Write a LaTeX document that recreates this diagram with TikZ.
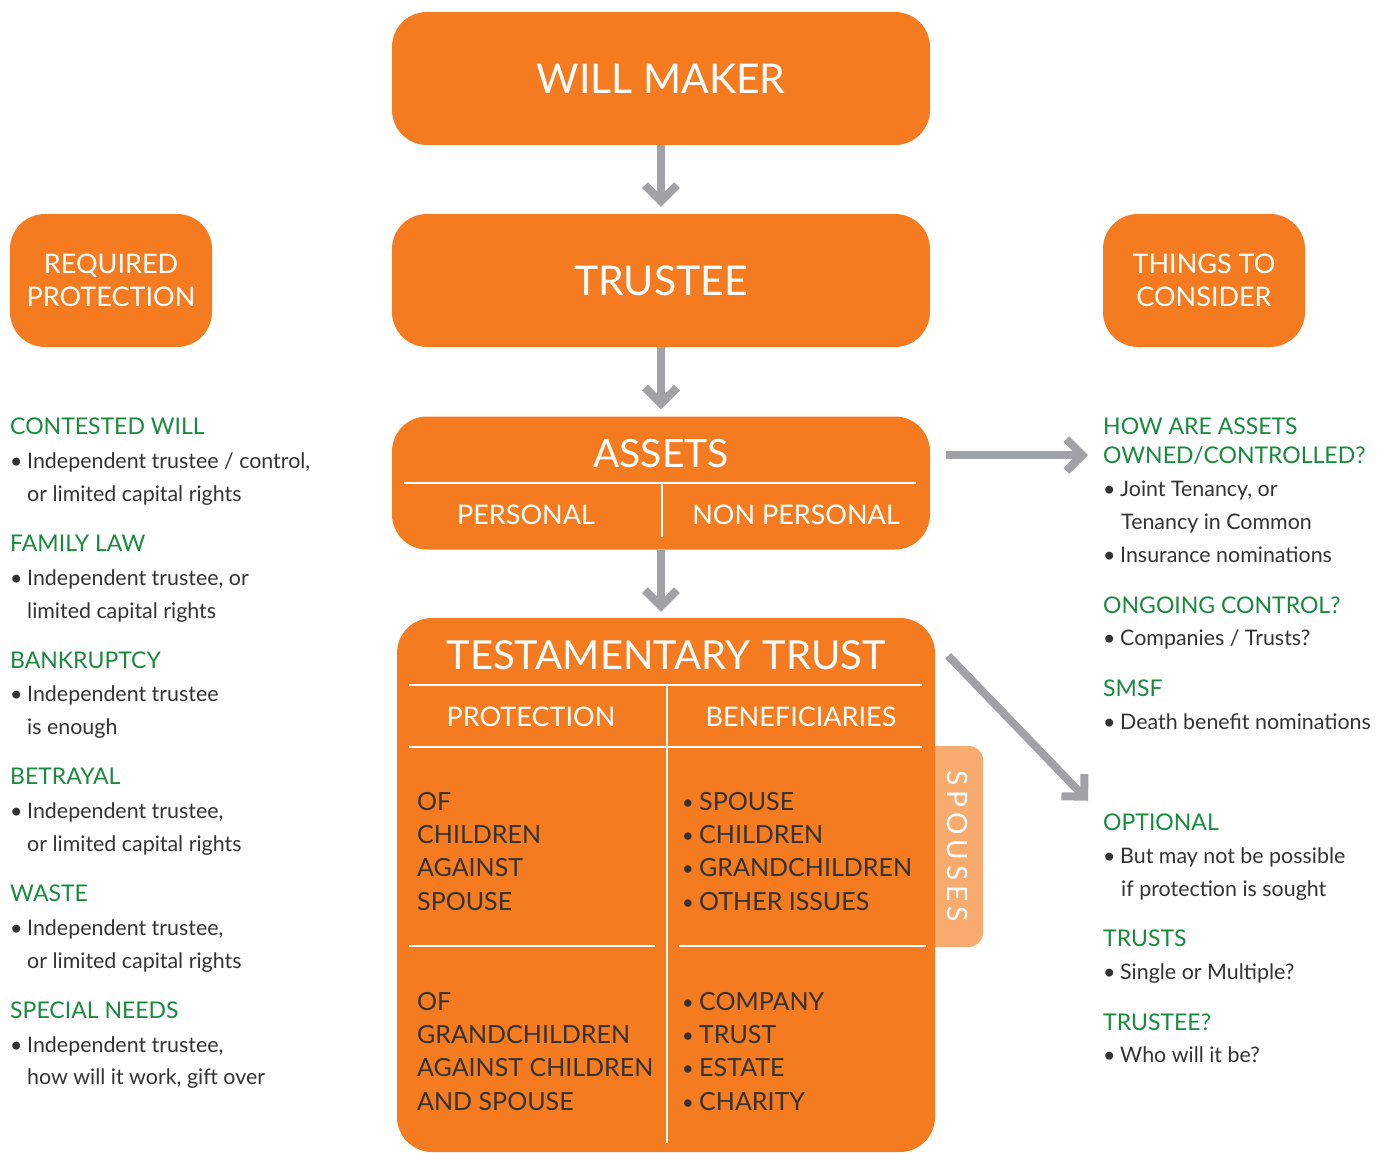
\documentclass[tikz,border=0pt]{standalone}
\usepackage{fontspec}
\setmainfont{Lato}
\usetikzlibrary{arrows.meta}
\definecolor{willorange}{HTML}{F47B20}
\definecolor{tabpeach}{HTML}{F8AB6F}
\definecolor{arrowgrey}{HTML}{A1A2A5}
\definecolor{headgreen}{HTML}{188A3E}
\definecolor{inktext}{HTML}{333333}
\newcommand{\blt}{\makebox[17pt][l]{\textbullet}}
\newcommand{\cellblt}{\makebox[18pt][l]{\hspace{1pt}\raisebox{1pt}{\fontsize{20}{20}\selectfont\textbullet}}}

\tikzset{
  bigbox/.style={fill=willorange, rounded corners=35pt, minimum width=538pt, minimum height=133pt, inner sep=0pt, text=white},
  sidebox/.style={fill=willorange, rounded corners=35pt, minimum width=202pt, minimum height=133pt, inner sep=0pt, text=white, align=center, font=\fontsize{27}{33}\selectfont},
  flowarrow/.style={draw=arrowgrey, line width=8pt, -{Straight Barb[length=16pt,width=32pt]}},
  greenhead/.style={anchor=base west, text=headgreen, inner sep=0pt, font=\fontsize{23}{28}\selectfont},
  bodyline/.style={anchor=base west, text=inktext, inner sep=0pt, font=\fontsize{21.4}{33}\selectfont},
  boxtitle/.style={anchor=base, text=white, inner sep=0pt},
  colhead/.style={anchor=base, text=white, inner sep=0pt, font=\fontsize{27}{33}\selectfont},
  celltext/.style={anchor=base west, text=inktext, inner sep=0pt, font=\fontsize{25}{33}\selectfont},
  divider/.style={draw=white, line width=2pt},
}

\begin{document}
\begin{tikzpicture}[x=1pt, y=-1pt]
\useasboundingbox (0,0) rectangle (1387,1153);

% middle column
\node[bigbox, font=\fontsize{41}{46}\selectfont] (willmaker) at (661,78.5) {WILL MAKER};
\node[bigbox, font=\fontsize{41}{46}\selectfont] (trustee) at (661,280.5) {TRUSTEE};

\node[bigbox] (assets) at (661,483) {};
\node[boxtitle, font=\fontsize{39}{44}\selectfont] (assetstitle) at (661,467) {ASSETS};
\draw[divider] (404,483) -- (916,483);
\draw[divider] (662,483) -- (662,537);
\node[colhead] (personal) at (526,524) {PERSONAL};
\node[colhead] (nonpersonal) at (796,524) {NON PERSONAL};

\fill[tabpeach, rounded corners=14pt] (905,746) rectangle (983,947);
\node[rotate=-90, text=white, inner sep=0pt, font=\fontsize{28}{30}\selectfont\addfontfeature{LetterSpace=18}] (spouses) at (958,846) {SPOUSES};

\node[bigbox, minimum height=534pt] (tt) at (666,885) {};
\node[boxtitle, font=\fontsize{40}{44}\selectfont] (tttitle) at (666,669) {TESTAMENTARY\hspace{12pt}TRUST};
\draw[divider] (409,685) -- (922,685);
\draw[divider] (409,747) -- (922,747);
\draw[divider] (667,685) -- (667,1143);
\draw[divider] (409,946) -- (655,946);
\draw[divider] (679,946) -- (926,946);
\node[colhead] (protection) at (531,726) {PROTECTION};
\node[colhead] (beneficiaries) at (801,726) {BENEFICIARIES};

\node[celltext] (of1) at (417,810) {OF};
\node[celltext] (of2) at (417,843) {CHILDREN};
\node[celltext] (of3) at (417,876) {AGAINST};
\node[celltext] (of4) at (417,910) {SPOUSE};
\node[celltext] (of5) at (417,1010) {OF};
\node[celltext] (of6) at (417,1043) {GRANDCHILDREN};
\node[celltext] (of7) at (417,1076) {AGAINST CHILDREN};
\node[celltext] (of8) at (417,1110) {AND SPOUSE};

\node[celltext] (bn1) at (681,810) {\cellblt SPOUSE};
\node[celltext] (bn2) at (681,843) {\cellblt CHILDREN};
\node[celltext] (bn3) at (681,876) {\cellblt GRANDCHILDREN};
\node[celltext] (bn4) at (681,910) {\cellblt OTHER ISSUES};
\node[celltext] (bn5) at (681,1010) {\cellblt COMPANY};
\node[celltext] (bn6) at (681,1043) {\cellblt TRUST};
\node[celltext] (bn7) at (681,1076) {\cellblt ESTATE};
\node[celltext] (bn8) at (681,1110) {\cellblt CHARITY};

% side boxes
\node[sidebox] (required) at (111,280.5) {REQUIRED\\PROTECTION};
\node[sidebox] (consider) at (1204,280.5) {THINGS TO\\CONSIDER};

% left column
\node[greenhead] (cw) at (10,434) {CONTESTED WILL};
\node[bodyline] (cw1) at (10,468) {\blt Independent trustee / control,};
\node[bodyline] (cw2) at (27,501) {or limited capital rights};
\node[greenhead] (fl) at (10,551) {FAMILY LAW};
\node[bodyline] (fl1) at (10,585) {\blt Independent trustee, or};
\node[bodyline] (fl2) at (27,618) {limited capital rights};
\node[greenhead] (bk) at (10,668) {BANKRUPTCY};
\node[bodyline] (bk1) at (10,701) {\blt Independent trustee};
\node[bodyline] (bk2) at (27,734) {is enough};
\node[greenhead] (bt) at (10,784) {BETRAYAL};
\node[bodyline] (bt1) at (10,818) {\blt Independent trustee,};
\node[bodyline] (bt2) at (27,851) {or limited capital rights};
\node[greenhead] (ws) at (10,901) {WASTE};
\node[bodyline] (ws1) at (10,935) {\blt Independent trustee,};
\node[bodyline] (ws2) at (27,968) {or limited capital rights};
\node[greenhead] (sn) at (10,1018) {SPECIAL NEEDS};
\node[bodyline] (sn1) at (10,1052) {\blt Independent trustee,};
\node[bodyline] (sn2) at (27,1084) {how will it work, gift over};

% right column
\node[greenhead] (howare) at (1103,434) {HOW ARE ASSETS};
\node[greenhead] (owned) at (1103,463) {OWNED/CONTROLLED?};
\node[bodyline] (ow1) at (1103,496) {\blt Joint Tenancy, or};
\node[bodyline] (ow2) at (1121,529) {Tenancy in Common};
\node[bodyline] (ow3) at (1103,562) {\blt Insurance nominations};
\node[greenhead] (ongoing) at (1103,613) {ONGOING CONTROL?};
\node[bodyline] (og1) at (1103,645) {\blt Companies / Trusts?};
\node[greenhead] (smsf) at (1103,696) {SMSF};
\node[bodyline] (sm1) at (1103,729) {\blt Death benefit nominations};
\node[greenhead] (optional) at (1103,830) {OPTIONAL};
\node[bodyline] (op1) at (1103,863) {\blt But may not be possible};
\node[bodyline] (op2) at (1121,896) {if protection is sought};
\node[greenhead] (trusts) at (1103,946) {TRUSTS};
\node[bodyline] (tr1) at (1103,979) {\blt Single or Multiple?};
\node[greenhead] (trusteeq) at (1103,1030) {TRUSTEE?};
\node[bodyline] (te1) at (1103,1062) {\blt Who will it be?};

% arrows
\coordinate (diagtail) at ([shift={(13,38)}]tt.north east);
\coordinate (diaghead) at ([shift={(-15,-21)}]optional.west);
\draw[flowarrow, shorten >=7pt] (willmaker.south) -- (trustee.north);
\draw[flowarrow, shorten >=7pt] (trustee.south) -- (assets.north);
\draw[flowarrow, shorten >=6pt] (assets.south) -- (assets.south |- tt.north);
\draw[flowarrow] ([xshift=16pt]assets.east |- owned.west) -- ([xshift=-15pt]owned.west);
\draw[flowarrow] (diagtail) -- (diaghead);
\end{tikzpicture}
\end{document}
